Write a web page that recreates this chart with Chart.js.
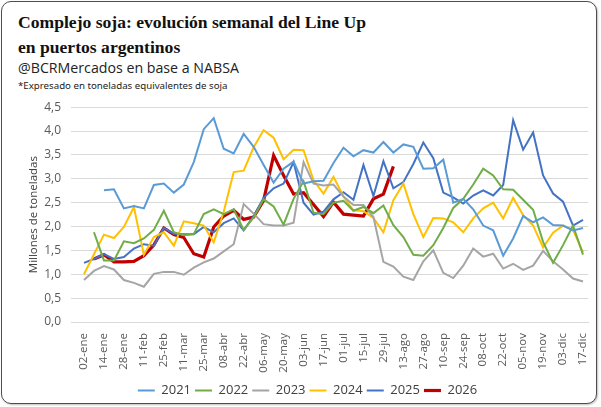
<!DOCTYPE html>
<html>
<head>
<meta charset="utf-8">
<script src="https://cdn.jsdelivr.net/npm/chart.js@4.4.1/dist/chart.umd.min.js"></script>
<style>
  html, body { margin: 0; padding: 0; background: #fff; }
  #card {
    position: absolute; left: 1px; top: 1px; width: 594px; height: 401px;
    border: 1.5px solid #4d4d4d; border-radius: 10px; background: #fff;
    box-shadow: 1px 1px 2px rgba(0,0,0,0.25);
  }
  .title {
    position: absolute; left: 18px; top: 10px; margin: 0;
    font-family: "Liberation Serif", serif; font-weight: bold; font-size: 17.6px;
    line-height: 25px; color: #111;
  }
  .sub {
    position: absolute; left: 18px; top: 58px; margin: 0;
    font-family: "Open Sans", sans-serif; font-size: 14.2px; color: #222;
  }
  .note {
    position: absolute; left: 18px; top: 79px; margin: 0;
    font-family: "Noto Sans", sans-serif; font-size: 9.7px; color: #222;
  }
  #wrap { position: absolute; left: 0; top: 90px; width: 600px; height: 317px; }
</style>
</head>
<body>
<div id="card"></div>
<div class="title">Complejo soja: evolución semanal del Line Up<br>en puertos argentinos</div>
<div class="sub">@BCRMercados en base a NABSA</div>
<div class="note">*Expresado en toneladas equivalentes de soja</div>
<div id="wrap"><canvas id="lineUp" width="600" height="317"></canvas></div>
<script>
// weekly categories (only every other one is labelled)
const weeks = ['02-ene', '07-ene', '14-ene', '21-ene', '28-ene', '04-feb', '11-feb', '18-feb', '25-feb',
  '04-mar', '11-mar', '18-mar', '25-mar', '01-abr', '08-abr', '15-abr', '22-abr', '29-abr',
  '06-may', '13-may', '20-may', '27-may', '03-jun', '10-jun', '17-jun', '24-jun',
  '01-jul', '08-jul', '15-jul', '22-jul', '29-jul', '05-ago', '13-ago', '20-ago', '27-ago',
  '03-sep', '10-sep', '17-sep', '24-sep', '01-oct', '08-oct', '15-oct', '22-oct', '29-oct',
  '05-nov', '12-nov', '19-nov', '26-nov', '03-dic', '10-dic', '17-dic'];

const y2021 = [null, null, 2.76, 2.78, 2.38, 2.43, 2.38, 2.87, 2.90, 2.71, 2.88, 3.35, 4.04, 4.27, 3.63, 3.53,
  3.94, 3.67, 3.29, 2.92, 3.21, 3.36, 2.90, 2.95, 2.96, 3.33, 3.65, 3.47, 3.60, 3.55, 3.77, 3.55, 3.72, 3.67,
  3.21, 3.22, 3.40, 2.50, 2.58, 2.36, 2.02, 1.92, 1.39, 1.75, 2.22, 2.09, 2.19, 2.03, 2.02, 1.92, 1.97];
const y2022 = [null, 1.88, 1.29, 1.29, 1.69, 1.65, 1.75, 1.93, 2.33, 1.88, 1.82, 1.84, 2.26, 2.36, 2.26, 2.36,
  1.93, 2.19, 2.57, 2.42, 2.04, 2.58, 2.95, 2.29, 2.26, 2.50, 2.54, 2.33, 2.41, 2.28, 2.44, 2.03, 1.78, 1.41,
  1.39, 1.61, 1.97, 2.39, 2.58, 2.88, 3.21, 3.07, 2.78, 2.77, 2.56, 2.35, 1.68, 1.24, 1.61, 2.02, 1.41];
const y2023 = [0.88, 1.07, 1.17, 1.10, 0.88, 0.82, 0.74, 1.01, 1.05, 1.05, 0.99, 1.14, 1.25, 1.33, 1.48, 1.63,
  2.47, 2.27, 2.05, 2.02, 2.02, 2.08, 3.35, 2.90, 2.86, 2.88, 2.63, 2.45, 2.45, 2.20, 1.26, 1.16, 0.95, 0.88,
  1.27, 1.50, 1.03, 0.92, 1.18, 1.54, 1.37, 1.43, 1.12, 1.22, 1.09, 1.18, 1.49, 1.27, 1.10, 0.91, 0.85];
const y2024 = [1.00, 1.42, 1.83, 1.76, 1.99, 2.41, 1.41, 1.78, 1.88, 1.60, 2.11, 2.07, 2.02, 1.67, 2.31, 3.14,
  3.17, 3.66, 4.02, 3.86, 3.41, 3.61, 3.60, 2.97, 2.69, 3.04, 2.63, 2.34, 2.32, 2.18, 1.88, 2.55, 2.90, 2.26,
  1.78, 2.18, 2.17, 2.09, 1.88, 2.17, 2.38, 2.50, 2.17, 2.60, 2.24, 2.02, 1.56, 1.87, 2.02, 1.93, 1.46];
const y2025 = [1.24, 1.32, 1.42, 1.32, 1.36, 1.54, 1.63, 1.60, 1.97, 1.85, 1.84, 1.84, 1.99, 1.88, 2.07, 2.17,
  1.92, 2.22, 2.60, 2.80, 2.90, 3.35, 2.50, 2.25, 2.31, 2.57, 2.72, 2.56, 3.29, 2.64, 3.37, 2.80, 2.93, 3.31,
  3.76, 3.43, 2.71, 2.61, 2.48, 2.65, 2.76, 2.65, 2.87, 4.23, 3.61, 3.97, 3.07, 2.69, 2.52, 2.02, 2.14];
const y2026 = [null, 1.32, 1.41, 1.26, 1.26, 1.27, 1.39, 1.61, 1.97, 1.83, 1.77, 1.43, 1.36, 1.99, 2.22, 2.34,
  2.15, 2.20, 2.55, 3.49, 3.07, 2.68, 2.71, 2.46, 2.21, 2.51, 2.26, 2.24, 2.22, 2.58, 2.68, 3.26];

const yTicks = [0, 0.5, 1, 1.5, 2, 2.5, 3, 3.5, 4, 4.5];

function serie(label, data, color, width) {
  return {
    label: label,
    data: data,
    borderColor: color,
    backgroundColor: color,
    borderWidth: width,
    pointRadius: 0,
    tension: 0,
    spanGaps: false
  };
}

const ctx = document.getElementById('lineUp').getContext('2d');
new Chart(ctx, {
  type: 'line',
  data: {
    labels: weeks,
    datasets: [
      serie('2021', y2021, '#5b9bd5', 2),
      serie('2022', y2022, '#70ad47', 2),
      serie('2023', y2023, '#a5a5a5', 2),
      serie('2024', y2024, '#ffc000', 2),
      serie('2025', y2025, '#4472c4', 2),
      serie('2026', y2026, '#c00000', 3.2)
    ]
  },
  options: {
    responsive: false,
    animation: false,
    layout: { padding: { top: 12, right: 12, left: 27, bottom: 0 } },
    plugins: {
      title: { display: false },
      tooltip: { enabled: false },
      legend: {
        position: 'bottom',
        labels: {
          usePointStyle: true,
          pointStyle: 'line',
          pointStyleWidth: 17,
          padding: 4,
          color: '#404040',
          font: { family: 'Open Sans', size: 13 }
        }
      }
    },
    scales: {
      x: {
        offset: true,
        grid: { display: false },
        border: { display: true, color: '#d9d9d9' },
        afterFit: function (scale) { scale.height = 58; },
        ticks: {
          autoSkip: false,
          maxRotation: 90,
          minRotation: 90,
          color: '#595959',
          font: { family: 'Open Sans', size: 11.5 },
          callback: function (value, index) { return index % 2 === 0 ? weeks[index] : null; }
        }
      },
      y: {
        min: 0,
        max: 4.5,
        afterFit: function (scale) { scale.width = 52; },
        afterBuildTicks: function (scale) { scale.ticks = yTicks.map(v => ({ value: v })); },
        grid: { color: '#d9d9d9', lineWidth: 1 },
        border: { display: false },
        title: {
          display: true,
          text: 'Millones de toneladas',
          color: '#404040',
          padding: 0,
          font: { family: 'Open Sans', size: 11.5 }
        },
        ticks: {
          color: '#595959',
          padding: 10,
          font: { family: 'Open Sans', size: 12 },
          callback: function (v) { return v.toFixed(1).replace('.', ','); }
        }
      }
    }
  }
});
</script>
</body>
</html>
